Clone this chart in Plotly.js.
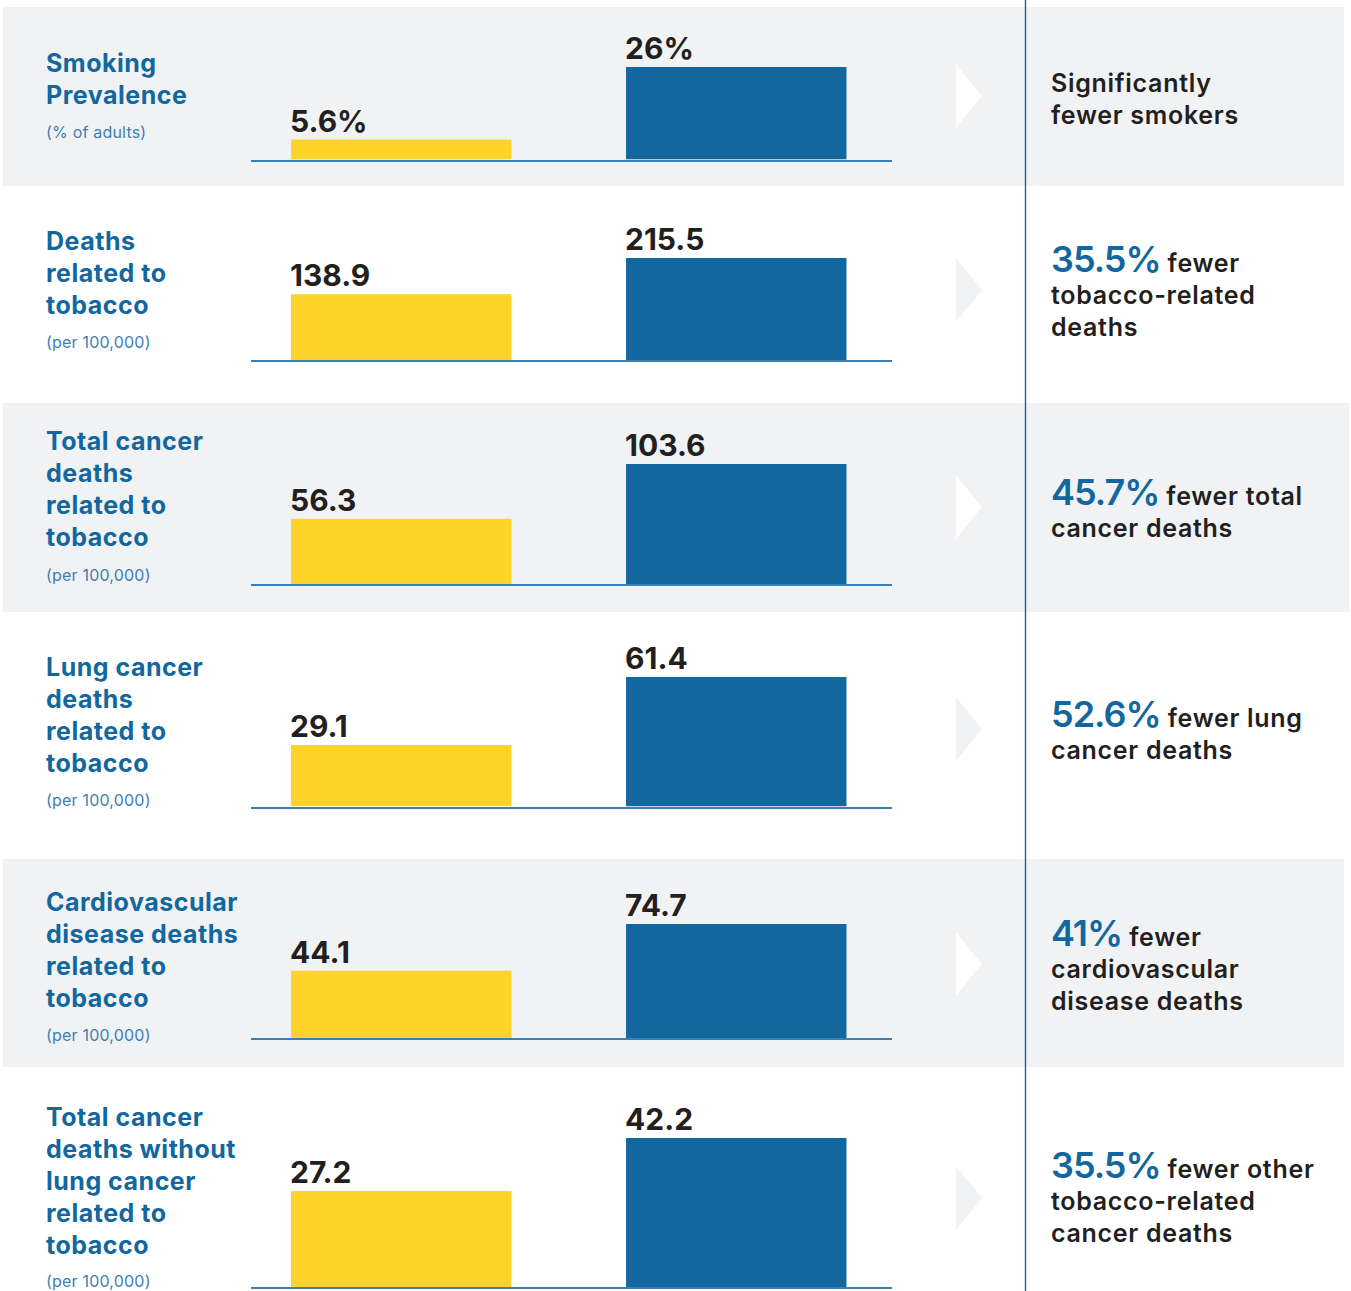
<!DOCTYPE html>
<html>
<head>
<meta charset="utf-8">
<script src="https://cdn.plot.ly/plotly-3.0.1.min.js"></script>
<style>
html,body{margin:0;padding:0;background:#ffffff;}
#chart{width:1351px;height:1291px;}
</style>
</head>
<body>
<div id="chart"></div>
<script>
// ---------------- DATA ----------------
const metricNames = [
  'Smoking<br>Prevalence',
  'Deaths<br>related to<br>tobacco',
  'Total cancer<br>deaths<br>related to<br>tobacco',
  'Lung cancer<br>deaths<br>related to<br>tobacco',
  'Cardiovascular<br>disease deaths<br>related to<br>tobacco',
  'Total cancer<br>deaths without<br>lung cancer<br>related to<br>tobacco'
];
const metricUnits = ['(% of adults)', '(per 100,000)', '(per 100,000)', '(per 100,000)', '(per 100,000)', '(per 100,000)'];
const groups = ['Group A', 'Group B'];
const yellowValues = [5.6, 138.9, 56.3, 29.1, 44.1, 27.2];
const blueValues = [26, 215.5, 103.6, 61.4, 74.7, 42.2];
const valueSuffix = ['%', '', '', '', '', ''];
const differenceLabels = ['', '35.5%', '45.7%', '52.6%', '41%', '35.5%'];
const outcomeTexts = [
  'Significantly<br>fewer smokers',
  'fewer<br>tobacco-related<br>deaths',
  'fewer total<br>cancer deaths',
  'fewer lung<br>cancer deaths',
  'fewer<br>cardiovascular<br>disease deaths',
  'fewer other<br>tobacco-related<br>cancer deaths'
];

// ---------------- LAYOUT GEOMETRY (pixels) ----------------
const W = 1351, H = 1291;
const rowBottom = [159.5, 360, 584, 806.5, 1038, 1287];
const rowTop = [67, 258, 464, 677, 924, 1138];
const headingBaseline = [72, 250, 450, 676, 911, 1126];
const unitBaseline = [138, 348, 581, 806, 1041, 1287];
const outcomeBaseline = [92, 272, 505, 727, 946, 1178];
const chevronMid = [96, 290, 507, 729, 964, 1198];
const rowShaded = [true, false, true, false, true, false];
const bands = [[3, 1344, 7, 186], [3, 1349, 403, 612], [3, 1344, 859, 1067]];

// ---------------- STYLE ----------------
const FONT = 'Inter, "Noto Sans", sans-serif';
const BLUE = '#12679e';
const YELLOW = '#ffd42a';
const DARK = '#231f20';
const UNIT = '#3f7db3';
const BAND = '#f1f2f4';
const LINE_PITCH = 32;
const ASC = 0.36; // center offset above baseline (fraction of font size)

const px = x => x / W;
const py = y => 1 - y / H;

const traces = [];
const layout = {
  width: W, height: H,
  margin: {l: 0, r: 0, t: 0, b: 0, pad: 0},
  paper_bgcolor: '#ffffff',
  plot_bgcolor: 'rgba(0,0,0,0)',
  showlegend: false,
  barmode: 'overlay',
  font: {family: FONT, color: DARK},
  shapes: [],
  annotations: []
};

// background bands
bands.forEach(b => {
  layout.shapes.push({
    type: 'rect', xref: 'paper', yref: 'paper', layer: 'below',
    x0: px(b[0]), x1: px(b[1]), y0: py(b[3]), y1: py(b[2]),
    fillcolor: BAND, line: {width: 0}
  });
});
// vertical divider
layout.shapes.push({
  type: 'line', xref: 'paper', yref: 'paper', layer: 'above',
  x0: px(1025.5), x1: px(1025.5), y0: 0, y1: 1,
  line: {color: BLUE, width: 1.4}
});

function textLine(text, xPx, baselinePx, size, color, weight, spacing, refSize) {
  const s = refSize || size;
  const t = spacing ? '<span style="letter-spacing:' + spacing + 'px">' + text + '</span>' : text;
  layout.annotations.push({
    xref: 'paper', yref: 'paper',
    x: px(xPx), y: py(baselinePx - ASC * s),
    xanchor: 'left', yanchor: 'middle',
    text: t, showarrow: false,
    borderpad: 0, borderwidth: 0,
    align: 'left',
    font: {family: FONT, size: size, color: color, weight: weight}
  });
}

yellowValues.forEach((yv, i) => {
  const n = i + 1;
  const xk = n === 1 ? 'x' : 'x' + n;
  const yk = n === 1 ? 'y' : 'y' + n;
  const vals = [yv, blueValues[i]];
  traces.push({
    type: 'bar', x: groups, y: vals,
    xaxis: xk, yaxis: yk,
    width: 0.658,
    marker: {color: [YELLOW, BLUE], line: {width: 0}},
    hoverinfo: 'skip', cliponaxis: false,
    name: metricNames[i].replace(/<br>/g, ' ')
  });
  layout['xaxis' + (n === 1 ? '' : n)] = {
    type: 'category', categoryarray: groups, categoryorder: 'array',
    domain: [px(250.5), px(891.5)],
    range: [-0.45, 1.4634],
    anchor: yk,
    showline: true, linecolor: '#3a80b5', linewidth: 2,
    showticklabels: false, ticks: '', showgrid: false, zeroline: false,
    fixedrange: true
  };
  layout['yaxis' + (n === 1 ? '' : n)] = {
    domain: [py(rowBottom[i]), py(rowTop[i])],
    range: [0, Math.max(...vals)],
    anchor: xk, visible: false, fixedrange: true
  };
  // value labels
  vals.forEach((v, j) => {
    layout.annotations.push({
      xref: xk, yref: yk, x: groups[j], y: v,
      xanchor: 'left', yanchor: 'bottom', xshift: -111, yshift: 1,
      text: String(v) + valueSuffix[i], showarrow: false,
      borderpad: 0, borderwidth: 0,
      font: {family: FONT, size: 30, color: DARK, weight: 700}
    });
  });
  // heading lines
  metricNames[i].split('<br>').forEach((ln, k) => {
    textLine(ln, 46, headingBaseline[i] + k * LINE_PITCH, 25, BLUE, 700, 0.5);
  });
  textLine(metricUnits[i], 46, unitBaseline[i], 16, UNIT, 400, 0.2);
  // outcome text
  outcomeTexts[i].split('<br>').forEach((ln, k) => {
    if (k === 0 && differenceLabels[i]) {
      const t = '<span style="font-size:36px;letter-spacing:-1px;color:' + BLUE + '">' + differenceLabels[i] + '</span> ' + ln;
      textLine(t, 1051, outcomeBaseline[i], 25, DARK, 600, 0.7, 36);
    } else {
      textLine(ln, 1051, outcomeBaseline[i] + k * LINE_PITCH, 25, DARK, 600, 0.7);
    }
  });
  // chevron
  const cx0 = px(956), cx1 = px(982), cm = py(chevronMid[i]);
  const ct = py(chevronMid[i] - 32), cb = py(chevronMid[i] + 32);
  layout.shapes.push({
    type: 'path', xref: 'paper', yref: 'paper', layer: 'below',
    path: 'M ' + cx0 + ' ' + ct + ' L ' + cx1 + ' ' + cm + ' L ' + cx0 + ' ' + cb + ' Z',
    fillcolor: rowShaded[i] ? '#ffffff' : BAND, line: {width: 0}
  });
});

Plotly.newPlot('chart', traces, layout, {displayModeBar: false, staticPlot: true});
</script>
</body>
</html>
